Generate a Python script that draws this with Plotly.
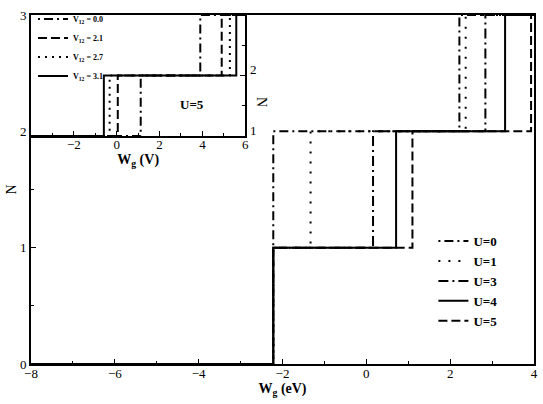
import plotly.graph_objects as go

# main panel: N(Wg) steps for several U
u_labels = ["U=0", "U=1", "U=3", "U=4", "U=5"]
step_01 = [-2.22, -2.22, -2.22, -2.22, -2.22]
step_12 = [-2.22, -1.33, 0.16, 0.71, 1.10]
step_23 = [2.22, 2.37, 2.84, 3.31, 3.93]
u_dash = ["2px,4px,9px,4px", "2px,8px", "10px,4px,2px,4px", "solid", "9px,4px"]

# inset: U=5, several V12
v_labels = ["0.0", "2.1", "2.7", "3.1"]
inset_12 = [1.12, 0.05, -0.33, -0.60]
inset_23 = [3.90, 4.90, 5.28, 5.58]
v_dash = ["2px,4px,9px,4px", "9px,4px", "2px,5px", "solid"]

FONT = "Liberation Serif, Times New Roman, serif"

fig = go.Figure()

for name, a, b, c, d in zip(u_labels, step_01, step_12, step_23, u_dash):
    fig.add_trace(go.Scatter(
        x=[-8, a, b, c, 4], y=[0, 1, 2, 3, 3],
        mode="lines", line_shape="hv",
        line=dict(color="black", width=2, dash=d),
        name=f"<b>{name}</b>", legend="legend",
    ))

for name, b, c, d in zip(v_labels, inset_12, inset_23, v_dash):
    fig.add_trace(go.Scatter(
        x=[-4, b, c, 6], y=[1, 2, 3, 3],
        mode="lines", line_shape="hv",
        line=dict(color="black", width=2, dash=d),
        name=f"<b>V<sub>12</sub> = {name}</b>",
        xaxis="x2", yaxis="y2", legend="legend2",
    ))

axis_common = dict(
    showline=True, linecolor="black", linewidth=2, mirror=True,
    ticks="inside", ticklen=5, tickwidth=1, tickcolor="black",
    showgrid=False, zeroline=False,
    tickfont=dict(family=FONT, size=13, color="black"),
)

fig.update_layout(
    width=543, height=404,
    margin=dict(l=31, r=5, t=7, b=40),
    paper_bgcolor="white", plot_bgcolor="white",
    font=dict(family=FONT, color="black"),
    showlegend=True,
    xaxis=dict(
        range=[-8, 4], dtick=2, ticklabelstandoff=-4,
        minor=dict(dtick=1, ticks="inside", ticklen=3, tickcolor="black"),
        title=dict(text="<b>W<sub>g</sub> (eV)</b>", font=dict(size=14), standoff=0),
        **axis_common,
    ),
    yaxis=dict(
        range=[0, 3], dtick=1,
        minor=dict(dtick=0.5, ticks="inside", ticklen=3, tickcolor="black"),
        title=dict(text="N", font=dict(size=14), standoff=0),
        **axis_common,
    ),
    xaxis2=dict(
        domain=[0, 0.426], anchor="y2", range=[-4, 6],
        tickvals=[-2, 0, 2, 4, 6], ticklabelstandoff=-5,
        minor=dict(dtick=1, ticks="inside", ticklen=3, tickcolor="black"),
        title=dict(text="<b>W<sub>g</sub> (V)</b>", font=dict(size=14), standoff=0),
        **axis_common,
    ),
    yaxis2=dict(
        domain=[0.653, 1], anchor="x2", side="right", range=[1, 3],
        tickvals=[1, 2], ticklabelshift=-6,
        minor=dict(dtick=0.5, ticks="inside", ticklen=3, tickcolor="black"),
        **axis_common,
    ),
    legend=dict(
        x=0.80, y=0.395, xanchor="left", yanchor="top",
        bgcolor="rgba(0,0,0,0)", font=dict(family=FONT, size=13, color="black"),
        tracegroupgap=0,
    ),
    legend2=dict(
        x=0.004, y=1.03, xanchor="left", yanchor="top",
        bgcolor="rgba(0,0,0,0)", font=dict(family=FONT, size=8, color="black"),
        tracegroupgap=0,
    ),
)

fig.add_annotation(
    x=3.5, y=1.53, xref="x2", yref="y2", text="<b>U=5</b>",
    showarrow=False, font=dict(family=FONT, size=13, color="black"),
)
# inset y-axis title, sits below the "2" tick label as in the original
fig.add_annotation(
    x=0.458, y=0.77, xref="paper", yref="paper", text="N", textangle=90,
    showarrow=False, font=dict(family=FONT, size=14, color="black"),
)

fig.write_html(
    "out.html",
    config={"displayModeBar": False},
    post_script="document.body.style.margin='0';",
)
